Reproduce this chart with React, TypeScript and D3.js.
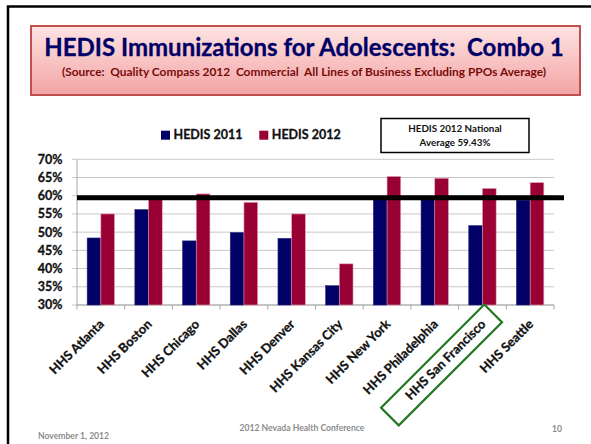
import * as d3 from "d3";

const categories = [
  "HHS Atlanta",
  "HHS Boston",
  "HHS Chicago",
  "HHS Dallas",
  "HHS Denver",
  "HHS Kansas City",
  "HHS New York",
  "HHS Philadelphia",
  "HHS San Francisco",
  "HHS Seattle",
];
const seriesNames = ["HEDIS 2011", "HEDIS 2012"];
const hedis2011 = [48.4, 56.2, 47.6, 49.9, 48.3, 35.3, 59.5, 59.5, 51.8, 58.8];
const hedis2012 = [55.0, 59.3, 60.5, 58.2, 55.0, 41.3, 65.3, 64.8, 62.0, 63.6];
const yTicks = [30, 35, 40, 45, 50, 55, 60, 65, 70];
const nationalAvg = 59.43;
const highlighted = "HHS San Francisco";

const WIDTH = 591;
const HEIGHT = 444;
const FONT = "Lato, 'Open Sans', sans-serif";
const COLORS = ["#000066", "#990033"];
const STROKES = ["#2b2b80", "#e8a2b8"];
const INK = "#111";

const PLOT = { left: 77, right: 554, top: 159.3, bottom: 305 };

export default function App() {
  const x = d3
    .scaleBand<string>()
    .domain(categories)
    .range([PLOT.left, PLOT.right])
    .paddingInner(0.426)
    .paddingOuter(0.213);
  const xSeries = d3
    .scaleBand<string>()
    .domain(seriesNames)
    .range([0, x.bandwidth()]);
  const y = d3.scaleLinear().domain([30, 70]).range([PLOT.bottom, PLOT.top]);
  const step = x.step();

  const rows = categories.map((c, i) => ({ name: c, values: [hedis2011[i], hedis2012[i]] }));
  const boundaries = d3.range(categories.length + 1).map((i) => PLOT.left + i * step);

  // Calibri bold is heavier than Lato bold, so thicken a bit
  const heavy = { stroke: INK, strokeWidth: 0.3 };

  return (
    <svg
      width={WIDTH}
      height={HEIGHT}
      style={{ position: "absolute", left: 0, top: 0, background: "#fff" }}
      fontFamily={FONT}
    >
      <defs>
        <linearGradient id="titleFill" x1="0" y1="0" x2="0" y2="1">
          <stop offset="0" stopColor="#fde3e3" />
          <stop offset="1" stopColor="#f3a4a4" />
        </linearGradient>
      </defs>

      {/* slide frame */}
      <path d={`M8,${HEIGHT} V6.5 H${WIDTH}`} fill="none" stroke="#000" strokeWidth={2.5} />

      {/* title box */}
      <rect x={31} y={26} width={549} height={69} fill="url(#titleFill)" stroke="#c0504d" strokeWidth={2} />
      <text
        x={304}
        y={56}
        textAnchor="middle"
        fontSize={24}
        fontWeight="bold"
        fill="#000066"
        stroke="#000066"
        strokeWidth={0.3}
        style={{ whiteSpace: "pre" }}
      >
        HEDIS Immunizations for Adolescents:  Combo 1
      </text>
      <text
        x={304}
        y={75.5}
        textAnchor="middle"
        fontSize={11.9}
        fontWeight="bold"
        fill="#7a0a0a"
        style={{ whiteSpace: "pre" }}
      >
        (Source:  Quality Compass 2012  Commercial  All Lines of Business Excluding PPOs Average)
      </text>

      {/* legend */}
      {seriesNames.map((s, i) => (
        <g key={s} transform={`translate(${161 + i * 98.3},130.7)`}>
          <rect width={9} height={9} fill={COLORS[i]} />
          <text x={12.5} y={8} fontSize={12.5} fontWeight="bold" fill={INK} {...heavy}>
            {s}
          </text>
        </g>
      ))}

      {/* national average note */}
      <rect x={381} y={118.5} width={148} height={34} fill="#fff" stroke="#000" strokeWidth={1.5} />
      <text x={455} y={132} textAnchor="middle" fontSize={9.8} fontWeight="bold" fill={INK}>
        HEDIS 2012 National
      </text>
      <text x={455} y={145.7} textAnchor="middle" fontSize={9.8} fontWeight="bold" fill={INK}>
        Average 59.43%
      </text>

      {/* gridlines and y axis */}
      {yTicks.map((t) => (
        <g key={t}>
          <line x1={PLOT.left - 5} x2={PLOT.right} y1={y(t)} y2={y(t)} stroke="#c8c8c8" strokeWidth={1} />
          <text x={62.5} y={y(t)} dy="0.35em" textAnchor="end" fontSize={12.5} fontWeight="bold" fill={INK} {...heavy}>
            {t}%
          </text>
        </g>
      ))}
      <line x1={PLOT.left} x2={PLOT.left} y1={PLOT.top} y2={PLOT.bottom} stroke="#a6a6a6" />
      <line x1={PLOT.left} x2={PLOT.right} y1={PLOT.bottom} y2={PLOT.bottom} stroke="#a6a6a6" />
      {boundaries.map((bx, i) => (
        <line key={i} x1={bx} x2={bx} y1={PLOT.bottom} y2={PLOT.bottom + 4.5} stroke="#a6a6a6" />
      ))}

      {/* bars */}
      {rows.map((r) => (
        <g key={r.name} transform={`translate(${x(r.name)},0)`}>
          {r.values.map((v, j) => (
            <rect
              key={j}
              x={xSeries(seriesNames[j])}
              y={y(v)}
              width={xSeries.bandwidth()}
              height={PLOT.bottom - y(v)}
              fill={COLORS[j]}
              stroke={STROKES[j]}
              strokeWidth={0.6}
            />
          ))}
        </g>
      ))}

      {/* national average line */}
      <line x1={PLOT.left} x2={564} y1={y(nationalAvg)} y2={y(nationalAvg)} stroke="#000" strokeWidth={5} />

      {/* category labels */}
      {categories.map((c) => {
        const cx = (x(c) ?? 0) + x.bandwidth() / 2 + 4;
        return (
          <g key={c} transform={`translate(${cx},325) rotate(-45)`}>
            <text textAnchor="end" fontSize={12.8} fontWeight="bold" fill={INK} {...heavy}>
              {c}
            </text>
            {c === highlighted && (
              <rect x={-133} y={-16} width={146} height={25} fill="none" stroke="#217821" strokeWidth={2.2} />
            )}
          </g>
        );
      })}

      {/* footer */}
      <text x={38} y={439} fontSize={8.6} fontWeight="bold" fill="#8c8c8c">
        November 1, 2012
      </text>
      <text x={302} y={430.7} textAnchor="middle" fontSize={8.6} fontWeight="bold" fill="#8c8c8c">
        2012 Nevada Health Conference
      </text>
      <text x={562} y={431.5} textAnchor="end" fontSize={8.6} fontWeight="bold" fill="#8c8c8c">
        10
      </text>
    </svg>
  );
}
